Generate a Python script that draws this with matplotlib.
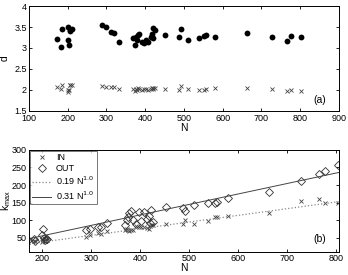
import numpy as np
import matplotlib
matplotlib.use("Agg")
import matplotlib.pyplot as plt

N = [172, 183, 186, 200, 201, 203, 205, 207, 210, 289, 298, 313, 320, 333,
     368, 373, 376, 378, 382, 385, 391, 397, 402, 407, 414, 417, 419, 421, 425,
     452, 488, 492, 510, 538, 552, 557, 579, 663, 727, 765, 776, 803]

d_dot = [3.22, 3.03, 3.45, 3.18, 3.49, 3.07, 3.40, 3.44, 3.45, 3.54, 3.49, 3.39, 3.36, 3.15,
         3.24, 3.08, 3.27, 3.20, 3.32, 3.34, 3.15, 3.12, 3.20, 3.15, 3.26, 3.33, 3.24, 3.47, 3.42,
         3.32, 3.27, 3.45, 3.19, 3.24, 3.28, 3.30, 3.27, 3.35, 3.26, 3.16, 3.28, 3.26]

d_x = [2.06, 2.02, 2.12, 2.00, 1.96, 1.99, 2.11, 2.12, 2.11, 2.10, 2.08, 2.06, 2.06, 2.02,
       2.01, 1.97, 2.03, 2.00, 2.04, 2.02, 1.99, 2.02, 2.01, 2.00, 2.03, 2.04, 2.03, 2.05, 2.05,
       2.03, 2.00, 2.09, 2.01, 1.99, 1.99, 2.03, 2.04, 2.04, 2.03, 1.98, 1.99, 1.98]

k_in = [37, 40, 42, 38, 45, 50, 42, 48, 44, 53, 57, 64, 61, 70,
        72, 75, 73, 70, 72, 71, 83, 80, 80, 80, 78, 76, 85, 87, 86,
        89, 89, 100, 90, 97, 108, 108, 112, 120, 155, 159, 149, 150]

k_out = [45, 48, 42, 58, 76, 50, 45, 47, 46, 72, 75, 80, 81, 91,
         86, 101, 108, 120, 125, 100, 88, 123, 98, 122, 103, 113, 92, 130, 96,
         139, 134, 125, 144, 150, 150, 152, 162, 180, 211, 232, 239, 257]

# fitted lines: slope, intercept (as drawn)
fit_in = (0.19, 0.0)
fit_out = (0.298, -4.0)

plt.rcParams['font.family'] = 'Liberation Sans'
fig = plt.figure(figsize=(3.48, 2.75), dpi=100)

ax1 = fig.add_axes([0.083, 0.597, 0.891, 0.381])
ax2 = fig.add_axes([0.083, 0.084, 0.891, 0.371])

for ax in (ax1, ax2):
    ax.tick_params(direction='in', length=2.5, width=0.6, labelsize=6.5,
                   top=True, right=True, pad=1.5)
    for s in ax.spines.values():
        s.set_linewidth(0.7)
ax1.tick_params(axis='x', pad=2.5)

# (a)
ax1.plot(N, d_dot, 'o', color='k', ms=4.2, mew=0)
ax1.plot(N, d_x, 'x', color='#444444', ms=2.8, mew=0.6)
ax1.set_xlim(100, 900)
ax1.set_ylim(1.5, 4)
ax1.set_xticks(range(100, 901, 100))
ax1.set_yticks([1.5, 2, 2.5, 3, 3.5, 4])
ax1.set_yticklabels(['1.5', '2', '2.5', '3', '3.5', '4'])
ax1.set_xlabel('N', fontsize=7.5, labelpad=0)
ax1.set_ylabel('d', fontsize=7.5)
ax1.yaxis.set_label_coords(-0.062, 0.5)
ax1.text(0.96, 0.06, '(a)', transform=ax1.transAxes, ha='right', va='bottom', fontsize=7.5)

# (b)
xx = np.array([173, 805])
ax2.plot(N, k_in, 'x', color='#444444', ms=2.8, mew=0.6, label='IN')
ax2.plot(N, k_out, 'D', mfc='none', mec='#333333', ms=3.8, mew=0.6, label='OUT')
ax2.plot(xx, fit_in[0] * xx + fit_in[1], ':', color='#888888', lw=0.9,
         label=r'0.19 N$^{1.0}$')
ax2.plot(xx, fit_out[0] * xx + fit_out[1], '-', color='#444444', lw=0.7,
         label=r'0.31 N$^{1.0}$')
ax2.set_xlim(173, 805)
ax2.set_ylim(10, 300)
ax2.set_xticks(range(200, 801, 100))
ax2.set_yticks(range(50, 301, 50))
ax2.set_xlabel('N', fontsize=7.5, labelpad=0)
ax2.set_ylabel('k$_\\mathregular{max}$', fontsize=7.5)
ax2.yaxis.set_label_coords(-0.052, 0.5)
ax2.text(0.96, 0.08, '(b)', transform=ax2.transAxes, ha='right', va='bottom', fontsize=7.5)
leg = ax2.legend(loc='upper left', fontsize=6.5, frameon=True, fancybox=False,
                 borderaxespad=0.1, handlelength=2.0, handletextpad=0.6,
                 labelspacing=0.2, borderpad=0.3)
leg.get_frame().set_edgecolor('#555555')
leg.get_frame().set_linewidth(0.7)

fig.savefig('out.png', dpi=100)
